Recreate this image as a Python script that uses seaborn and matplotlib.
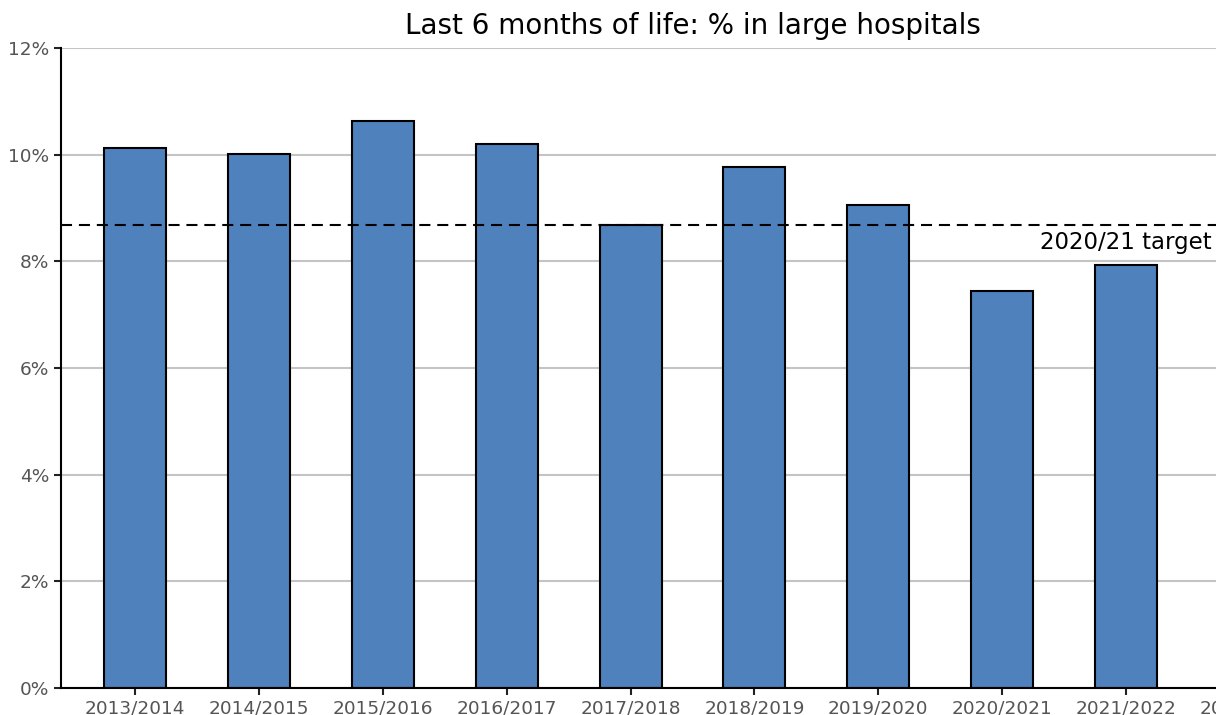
import matplotlib
matplotlib.use("Agg")
import matplotlib.pyplot as plt
import seaborn as sns
import pandas as pd
import numpy as np
from matplotlib.ticker import FuncFormatter

years = ["2013/2014", "2014/2015", "2015/2016", "2016/2017", "2017/2018",
         "2018/2019", "2019/2020", "2020/2021", "2021/2022", "2022/2023"]
pct = [10.13, 10.02, 10.63, 10.20, 8.68, 9.77, 9.06, 7.44, 7.93, np.nan]
target = 8.68
target_label = "2020/21 target"
title = "Last 6 months of life: % in large hospitals"

df = pd.DataFrame({"year": years, "pct": pct})

sns.set_theme(style="white")
plt.rcParams['font.family'] = ['DejaVu Sans']

fig = plt.figure(figsize=(12.16, 7.15), dpi=100)
ax = fig.add_axes([61/1216, 27/715, (1324-61)/1216, 640/715])

sns.barplot(data=df, x="year", y="pct", order=years, color="#4f81bd",
            saturation=1, width=0.5, edgecolor="black", linewidth=1.5, ax=ax)

ax.set_xlim(-0.6, 9.6)
ax.set_ylim(0, 12)
ax.set_yticks(range(0, 13, 2))
ax.yaxis.set_major_formatter(FuncFormatter(lambda v, p: f"{v:.0f}%"))
ax.yaxis.grid(True, color="#c4c4c4", linewidth=1.5)
ax.set_axisbelow(True)
ax.set_xlabel("")
ax.set_ylabel("")

for s in ["top", "right"]:
    ax.spines[s].set_visible(False)
for s in ["left", "bottom"]:
    ax.spines[s].set_color("black")
    ax.spines[s].set_linewidth(1.5)

ax.tick_params(axis="both", which="both", length=5, width=1.5, color="#222222",
               labelsize=13.3, labelcolor="#555555", bottom=True, left=True)

ax.axhline(target, color="black", linestyle=(0, (5.3, 3.3)), linewidth=1.5)
ax.text(8.695, 8.57, target_label, ha="right", va="top", fontsize=16.5, color="black")

ax.set_title(title, fontsize=20, color="black", pad=10)

fig.savefig("out.png", dpi=100)
